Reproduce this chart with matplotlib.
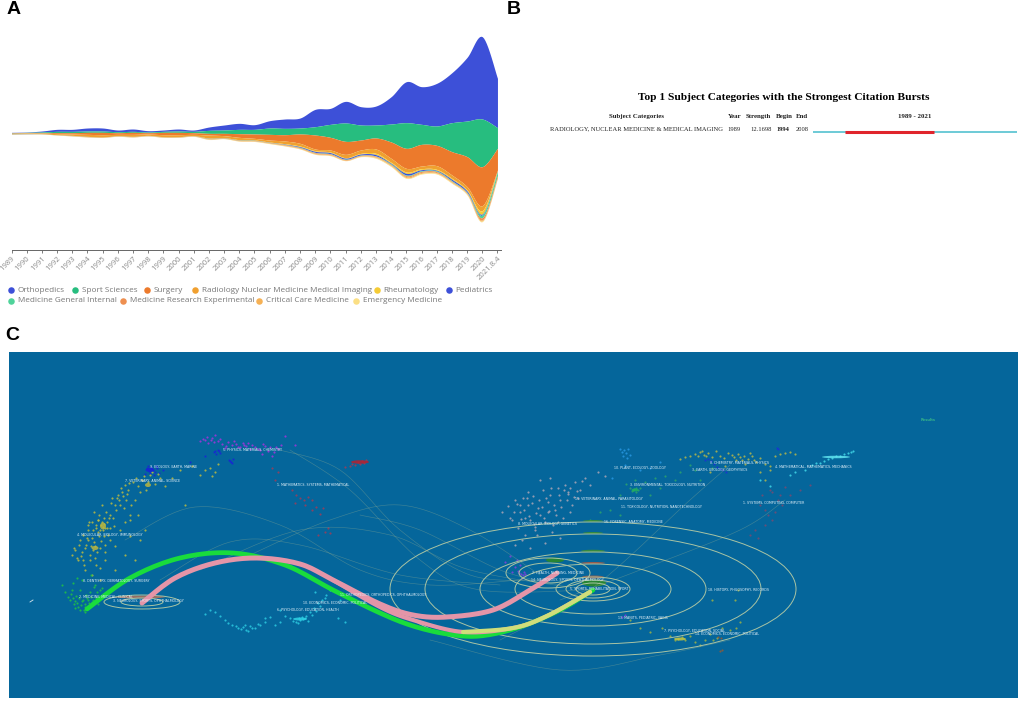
#!/usr/bin/env python
"""Three panel figure: subject category stream, citation burst, dual map overlay."""

import numpy as np
import matplotlib
matplotlib.use("Agg")
import matplotlib.pyplot as plt
from matplotlib.patches import Ellipse

# Panel A, stream values
years = [str(y) for y in range(1989, 2021)] + ["2021.8.4"]
stream_top = [397, 396, 393, 388, 388, 384, 384, 390, 387, 392, 390, 387, 390, 381, 375, 370, 374,
              362, 357, 354, 328, 325, 304, 320, 318, 290, 245, 260, 250, 218, 172, 110, 235]
orthopedics = [1, 1, 3, 6, 6, 9, 9, 5, 7, 4, 4, 6, 4, 10, 15, 18, 14, 22, 28, 30, 52, 48, 65, 55, 57,
               82, 123, 113, 128, 150, 191, 247, 148]
sport = [1, 1, 2, 4, 4, 4, 4, 3, 3, 2, 3, 4, 4, 9, 10, 13, 14, 19, 19, 18, 25, 39, 55, 45, 39,
         54, 77, 60, 58, 87, 107, 143, 62]
surgery = [1, 1, 1, 3, 4, 6, 7, 5, 6, 4, 7, 7, 5, 5, 7, 11, 13, 17, 19, 28, 42, 38, 39, 30, 33,
           49, 60, 65, 61, 70, 90, 117, 65]
radiology = [1, 1, 2, 3, 4, 6, 7, 4, 6, 4, 6, 6, 4, 9, 6, 7, 5, 6, 8, 8, 5, 6, 10, 10, 13,
             12, 11, 8, 11, 10, 10, 15, 2]
rheumatology = [.5, .5, .2, .2, .4, .4, .2, .4, .4, .4, .4, .4, .4, 1, .7, 1, 1, 1, 1.5, 2, 2, 2, 1.5, 2, 4,
                3, 4, 3, 3, 3, 3, 10, 2]
pediatrics = [.4, .4, .1, .1, .2, .2, .1, .2, .2, .2, .2, .2, .2, .4, .3, .4, .4, .5, 1, 2, 3, 3, 3, 3, 4,
              2, 5, 3, 2, 4, 4, 3, 1]
general_internal = [.3, .3, .1, .1, .2, .2, .1, .2, .2, .2, .2, .2, .2, .4, .3, .4, .4, .5, .5, 1, 1, 1, 1, 1, 1,
                    2, 2, 2, 2, 2, 2, 8, 12]
research_experimental = [.3, .3, .2, .2, .4, .4, .2, .4, .4, .4, .4, .4, .4, .8, .7, .8, .8, 1, 1.5, 1.5, 2, 2, 1.5, 1.5, 2,
                         2, 3, 3, 3, 2, 2, 7, 5]
critical_care = [.3, .3, .2, .2, .4, .4, .2, .4, .4, .4, .4, .4, .4, 1, .5, 1, 1, 1, 1.5, 1.5, 2, 2, 1.5, 1.5, 2,
                 2, 3, 3, 2, 2, 2, 3, 2]
emergency = [.2, .2, .2, .2, .4, .4, .2, .4, .4, .4, .4, .4, .4, .8, .5, .8, .8, 1, 1, 1, 1, 1, .5, 1, 2,
             2, 2, 2, 2, 2, 2, 2, 1]

series_names = ["Orthopedics", "Sport Sciences", "Surgery", "Radiology Nuclear Medicine Medical Imaging",
                "Rheumatology", "Pediatrics", "Medicine General Internal", "Medicine Research Experimental",
                "Critical Care Medicine", "Emergency Medicine"]
series_values = [orthopedics, sport, surgery, radiology, rheumatology, pediatrics, general_internal,
                 research_experimental, critical_care, emergency]
series_colors = ["#3D50D8", "#27BD7F", "#EC7A2C", "#F0A030", "#F5CB35", "#3D50D8", "#4FD39A", "#EE8F50",
                 "#F6B155", "#FBDF85"]

# Panel B
burst_title = "Top 1 Subject Categories with the Strongest Citation Bursts"
burst_category = "RADIOLOGY, NUCLEAR MEDICINE & MEDICAL IMAGING"
burst_year = 1989
burst_strength = 12.1698
burst_begin = 1994
burst_end = 2008
burst_range = (1989, 2021)

# Panel C, cluster dots read in map coordinates
magenta_x = [200, 205, 208, 212, 215, 218, 222, 228, 232, 236, 240, 246, 250, 255, 260, 265, 270, 274, 278, 281, 285, 295, 225, 243, 262, 272,
             203, 207, 211, 214, 220, 226, 234, 238, 244, 248, 252, 258, 263, 268, 276]
magenta_y = [441, 440, 443, 438, 435, 441, 444, 442, 445, 444, 447, 446, 449, 447, 450, 446, 447, 452, 449, 445, 436, 445, 448, 443, 454, 456,
             439, 437, 440, 442, 439, 446, 441, 447, 445, 443, 445, 449, 444, 451, 447]
blue_x = [147, 149, 151, 153, 155, 157, 159, 163, 190, 205, 214, 216, 218, 220, 229, 231, 233, 150, 154, 145, 148, 152, 156, 215, 219, 230, 232]
blue_y = [468, 471, 467, 470, 472, 468, 473, 470, 462, 456, 452, 454, 450, 453, 460, 462, 459, 473, 475, 474, 466, 469, 466, 451, 451, 461, 463]
yellow_x = [72, 75, 78, 80, 82, 84, 86, 88, 90, 92, 93, 95, 96, 98, 99, 100, 101, 103, 104, 105, 107, 108, 110, 112, 114, 116,
            118, 120, 122, 124, 126, 128, 130, 133, 135, 138, 142, 146, 150, 155, 160, 180, 200, 210, 215, 120, 130, 140, 110,
            92, 96, 85, 100, 105, 88, 94, 102, 115, 125, 135, 145, 185,
            74, 77, 79, 81, 83, 85, 87, 89, 91, 93, 94, 96, 97, 99, 100, 101, 102, 103, 104, 106, 107, 109, 111, 113,
            115, 117, 119, 121, 123, 125, 127, 129, 131, 136, 140, 144, 148, 152, 158, 165, 172, 192, 205, 212, 218,
            90, 95, 100, 105, 110, 115, 125, 130, 138, 92, 98, 104, 98, 105, 88, 83]
yellow_y = [555, 550, 560, 540, 552, 565, 545, 530, 555, 538, 550, 546, 528, 520, 536, 548, 525, 530, 518, 545, 522, 535, 515, 498, 526, 510,
            495, 505, 492, 508, 500, 490, 515, 482, 500, 486, 480, 490, 475, 484, 478, 470, 475, 468, 472, 530, 520, 540, 540,
            575, 565, 570, 580, 560, 525, 512, 505, 570, 555, 560, 530, 505,
            548, 558, 545, 556, 535, 548, 538, 522, 546, 530, 542, 525, 552, 515, 530, 541, 522, 527, 524, 512, 528, 518, 503, 518,
            505, 498, 500, 488, 496, 485, 494, 483, 505, 478, 492, 476, 482, 472, 474, 486, 478, 466, 470, 476, 464,
            560, 558, 568, 552, 528, 546, 522, 536, 515, 522, 532, 536, 520, 528, 540, 560]
green_x = [62, 65, 68, 70, 72, 74, 76, 78, 80, 82, 84, 86, 88, 90, 92, 94, 96, 98, 100, 73, 77, 85, 91, 95, 82, 88,
           71, 73, 75, 77, 79, 81, 83, 85, 87, 89, 91, 93, 97, 99, 102, 105, 75, 80, 85]
green_y = [585, 592, 597, 600, 590, 604, 596, 607, 590, 601, 610, 595, 606, 592, 602, 587, 598, 604, 590, 583, 578, 612, 575, 585, 580, 600,
           594, 598, 601, 603, 598, 605, 600, 607, 598, 603, 597, 600, 592, 596, 588, 594, 608, 610, 604]
cyan_x = [205, 215, 225, 232, 238, 243, 246, 250, 255, 260, 270, 280, 290, 296, 300, 303, 306, 310, 314, 318, 322, 326, 330, 338, 345, 298, 302, 308,
          228, 236, 241, 245, 248, 252, 258, 265, 275, 285, 293, 299, 305, 312, 316, 320, 325, 210, 220, 265, 280, 315, 340]
cyan_y = [614, 612, 620, 625, 628, 627, 630, 626, 628, 625, 617, 622, 618, 622, 620, 619, 616, 612, 608, 603, 600, 595, 590, 618, 622, 623, 617, 621,
          623, 626, 629, 625, 631, 628, 624, 622, 625, 616, 621, 618, 618, 615, 611, 606, 598, 610, 616, 618, 610, 592, 600]
red_x = [345, 350, 352, 355, 358, 360, 362, 364, 366, 272, 278, 292, 296, 300, 304, 308, 312, 312, 316, 320, 323, 325, 328, 330, 295, 305, 275, 318]
red_y = [467, 466, 464, 465, 462, 464, 461, 463, 460, 468, 472, 490, 495, 498, 500, 497, 500, 510, 507, 514, 508, 532, 528, 533, 503, 505, 480, 535]
pale_x = [502, 508, 512, 515, 518, 520, 523, 525, 528, 530, 533, 535, 538, 540, 543, 545, 548, 550, 553, 555, 558, 560, 563, 565, 568, 572, 575, 580, 585, 590, 598, 605,
          515, 522, 530, 537, 545, 552, 560, 570, 578, 525, 535, 548, 558, 568, 520, 528, 540, 550,
          510, 514, 517, 521, 524, 527, 529, 532, 534, 536, 539, 542, 544, 546, 549, 551, 554, 556, 559, 561, 564, 567, 570, 574, 577, 582]
pale_y = [512, 506, 520, 500, 528, 512, 498, 535, 505, 520, 496, 530, 508, 515, 490, 522, 502, 495, 525, 510, 488, 500, 518, 485, 494, 505, 482, 490, 478, 485, 472, 476,
          545, 540, 548, 535, 543, 532, 538, 512, 498, 518, 527, 512, 522, 492, 505, 492, 480, 478,
          518, 512, 504, 519, 510, 498, 516, 503, 524, 513, 500, 507, 518, 498, 511, 488, 505, 515, 495, 507, 490, 500, 488, 497, 491, 481]
purple_x = [505, 510, 515, 518, 520, 523, 525, 517, 522, 512, 625, 622, 519, 521, 524]
purple_y = [562, 556, 567, 571, 565, 575, 574, 560, 578, 572, 615, 617, 573, 574, 572]
sky_x = [620, 622, 624, 626, 628, 630, 623, 627, 640, 650, 660, 625, 612]
sky_y = [449, 452, 450, 453, 449, 455, 456, 458, 470, 468, 462, 465, 478]
mid_green_x = [630, 632, 634, 636, 638, 640, 626, 645, 655, 665, 680, 695, 620, 635, 650, 610, 600, 590, 675, 700, 712, 620, 633, 636, 660, 690]
mid_green_y = [488, 491, 489, 492, 490, 488, 484, 482, 478, 476, 472, 470, 495, 480, 495, 510, 512, 520, 480, 480, 468, 515, 490, 488, 488, 465]
right_yellow_x = [680, 685, 690, 695, 700, 704, 708, 712, 716, 720, 724, 728, 732, 736, 740, 744, 748, 752, 756, 760, 765, 770, 775, 780, 785, 790, 795,
                  710, 725, 745, 760, 770, 765, 698, 702, 706, 734, 738, 742, 750, 754]
right_yellow_y = [459, 457, 456, 454, 452, 455, 453, 457, 451, 456, 458, 453, 455, 460, 457, 456, 459, 456, 462, 458, 464, 466, 456, 454, 453, 452, 454,
                  472, 466, 464, 472, 470, 480, 456, 451, 456, 457, 454, 460, 453, 460]
right_blue_x = [705, 708, 711, 714, 717, 720, 723, 726, 777, 778]
right_blue_y = [460, 459, 461, 464, 467, 469, 470, 472, 448, 449]
right_cyan_x = [812, 816, 820, 824, 828, 832, 836, 840, 844, 848, 851, 853, 795, 805, 790, 760, 770]
right_cyan_y = [465, 463, 463, 461, 459, 458, 456, 456, 454, 453, 452, 451, 472, 470, 475, 480, 486]
dark_red_x = [760, 762, 765, 768, 770, 772, 775, 778, 780, 782, 785, 755, 750, 758, 790, 800, 810, 765, 772]
dark_red_y = [505, 495, 510, 515, 490, 492, 512, 500, 495, 505, 487, 530, 535, 538, 495, 490, 485, 525, 520]
low_yellow_x = [630, 640, 650, 662, 670, 675, 678, 682, 685, 690, 695, 700, 705, 710, 713, 717, 722, 730, 736, 740, 712, 735, 738]
low_yellow_y = [620, 628, 632, 628, 636, 640, 639, 637, 640, 636, 642, 645, 640, 634, 640, 638, 628, 630, 628, 622, 600, 600, 590]
brown_x = [718, 721, 722, 720]
brown_y = [637, 638, 650, 651]

cluster_dots = [(magenta_x, magenta_y, "#B02FE0"), (blue_x, blue_y, "#1A22D8"), (yellow_x, yellow_y, "#C9C23A"),
                (green_x, green_y, "#22C940"), (cyan_x, cyan_y, "#2FD3E6"), (red_x, red_y, "#A83A55"),
                (pale_x, pale_y, "#B8AAB8"), (purple_x, purple_y, "#8A3FE0"), (sky_x, sky_y, "#2A9BE6"),
                (mid_green_x, mid_green_y, "#2FA86A"), (right_yellow_x, right_yellow_y, "#C2BC45"),
                (right_blue_x, right_blue_y, "#1A30D8"), (right_cyan_x, right_cyan_y, "#45E0EE"),
                (dark_red_x, dark_red_y, "#7E4A70"), (low_yellow_x, low_yellow_y, "#A8B840"),
                (brown_x, brown_y, "#9A5A30")]

map_labels = [("5. PHYSICS, MATERIALS, CHEMISTRY", 223, 450), ("9. ECOLOGY, EARTH, MARINE", 150, 467.5),
              ("7. VETERINARY, ANIMAL, SCIENCE", 125, 480.5), ("1. MATHEMATICS, SYSTEMS, MATHEMATICAL", 277, 485),
              ("4. MOLECULAR, BIOLOGY, IMMUNOLOGY", 77, 535.5), ("8. DENTISTRY, DERMATOLOGY, SURGERY", 83, 580.5),
              ("2. MEDICINE, MEDICAL, CLINICAL", 79, 597), ("3. NEUROLOGY, SPORTS, OPHTHALMOLOGY", 113, 601),
              ("6. PSYCHOLOGY, EDUCATION, HEALTH", 277, 610), ("10. ECONOMICS, ECONOMIC, POLITICAL", 303, 602.5),
              ("11. ORTHOPEDICS, ORTHOPEDICS, OPHTHALMOLOGY", 340, 595), ("10. PLANT, ECOLOGY, ZOOLOGY", 614, 468),
              ("3. ENVIRONMENTAL, TOXICOLOGY, NUTRITION", 630, 485), ("15. VETERINARY, ANIMAL, PARASITOLOGY", 575, 498.5),
              ("11. TOXICOLOGY, NUTRITION, NANOTECHNOLOGY", 621, 507), ("16. FORENSIC, ANATOMY, MEDICINE", 604, 522),
              ("8. MOLECULAR, BIOLOGY, GENETICS", 518, 524), ("8. CHEMISTRY, MATERIALS, PHYSICS", 710, 463.5),
              ("3. EARTH, GEOLOGY, GEOPHYSICS", 692, 470), ("4. MATHEMATICAL, MATHEMATICS, MECHANICS", 775, 466.5),
              ("1. SYSTEMS, COMPUTING, COMPUTER", 743, 503.5), ("2. HEALTH, NURSING, MEDICINE", 532, 572.5),
              ("14. NEUROLOGY, SPORTS, OPHTHALMOLOGY", 531, 580), ("5. SPORTS, REHABILITATION, SPORT", 570, 589),
              ("18. HISTORY, PHILOSOPHY, RECORDS", 708, 590), ("13. MANITS, PEDIATRIC, VAGIS", 618, 618),
              ("7. PSYCHOLOGY, EDUCATION, SOCIAL", 664, 631), ("14. ECONOMICS, ECONOMIC, POLITICAL", 695, 634)]

# ellipse centre, half width, half height
ring_cx = [593, 593, 593, 593, 593, 593, 593, 548, 548, 142, 142]
ring_cy = [589, 589, 589, 589, 589, 589, 589, 573, 573, 602, 602]
ring_rx = [203, 168, 113, 78, 37, 27, 17, 42, 29, 38, 21]
ring_ry = [67, 55, 37, 25, 12, 9, 6, 15, 10, 7, 4]

# ribbons and thin citation links, way points only
green_link_x = [87, 130, 180, 233, 285, 333, 380, 413, 447, 480, 520, 560, 593]
green_link_y = [609, 578, 558, 553, 565, 590, 613, 626, 634, 636, 627, 610, 590]
pink_link_a_x = [142, 175, 215, 257, 300, 333, 380, 413, 447, 493, 530, 557]
pink_link_a_y = [603, 578, 563, 558, 564, 580, 604, 615, 617, 610, 590, 573]
pink_link_b_x = [333, 380, 413, 463, 513, 547, 590]
pink_link_b_y = [580, 607, 620, 632, 628, 616, 592]
thin_links = [
    ([125, 195, 280, 360, 430, 520], [540, 507, 525, 570, 585, 580]),
    ([280, 340, 400, 470, 540], [450, 470, 530, 575, 580]),
    ([250, 330, 400, 470, 540], [555, 520, 505, 530, 575]),
    ([160, 230, 300, 400, 500], [580, 542, 545, 575, 585]),
    ([200, 300, 390, 470, 590], [570, 530, 535, 570, 590]),
    ([290, 350, 420, 480, 590], [450, 490, 560, 590, 590]),
    ([360, 420, 500, 560], [515, 530, 570, 585]),
    ([500, 590, 690, 730], [640, 590, 500, 465]),
    ([560, 640, 740, 785], [600, 570, 530, 500]),
    ([430, 560, 660, 730], [640, 670, 655, 640]),
]


def smooth(values, n=12):
    """Catmull-Rom curve through the read values."""
    v = np.asarray(values, dtype=float)
    p = np.concatenate([[v[0]], v, [v[-1]]])
    t = np.linspace(0, 1, n, endpoint=False)[:, None]
    a, b, c, d = p[:-3, None].T, p[1:-2, None].T, p[2:-1, None].T, p[3:, None].T
    out = 0.5 * (2 * b + (c - a) * t + (2 * a - 5 * b + 4 * c - d) * t ** 2 + (3 * b - a - 3 * c + d) * t ** 3)
    return np.concatenate([out.T.ravel(), [v[-1]]])


fig = plt.figure(figsize=(10.21, 7.01), dpi=100, facecolor="white")
W, H = 1021.0, 701.0


def add_axes_px(x0, y0, x1, y1):
    return fig.add_axes([x0 / W, 1 - y1 / H, (x1 - x0) / W, (y1 - y0) / H])


# Overlay for panel letters, legend and the table of panel B
ax_page = add_axes_px(0, 0, W, H)
ax_page.set_xlim(0, W)
ax_page.set_ylim(H, 0)
ax_page.axis("off")
ax_page.set_zorder(5)

for letter, x, y in [("A", 13.5, 9), ("B", 514, 9), ("C", 12, 335)]:
    ax_page.text(x, y, letter, fontsize=14, fontweight="bold", family="Liberation Sans", ha="center", va="center")

# Panel A
ax_a = add_axes_px(11.5, 20, 500.5, 249.7)
ax_a.set_xlim(0, 32.2)
ax_a.set_ylim(749, 60)
ax_a.patch.set_alpha(0)
x_fine = smooth(np.arange(len(years)))
edge = smooth(stream_top)
for values, color in zip(series_values, series_colors):
    width = np.clip(smooth(values), 0, None)
    ax_a.fill_between(x_fine, edge, edge + width, color=color, lw=0)
    edge = edge + width
for s in ["top", "left", "right"]:
    ax_a.spines[s].set_visible(False)
ax_a.spines["bottom"].set_color("#666666")
ax_a.spines["bottom"].set_linewidth(0.7)
ax_a.set_yticks([])
ax_a.set_xticks(range(len(years)))
ax_a.set_xticklabels(years, rotation=45, ha="right", rotation_mode="anchor", fontsize=5.6,
                     color="#8A8A8A", family="Open Sans")
ax_a.tick_params(axis="x", length=2, width=0.6, color="#666666", pad=2)

legend_x = [11.3, 75, 147, 195, 377, 449, 11.3, 123, 259, 356]
legend_y = [290] * 6 + [301] * 4
for name, color, x, y in zip(series_names, series_colors, legend_x, legend_y):
    ax_page.scatter([x], [y], s=22, color=color, lw=0)
    ax_page.text(x + 6.5, y, name, fontsize=5.9, color="#777777", va="center", family="Open Sans")

# Panel B
ax_page.text(784, 98, burst_title, family="Liberation Serif", fontweight="bold", fontsize=8.2, ha="center", va="center")
bold_serif = dict(family="Liberation Serif", fontweight="bold", fontsize=4.95, va="center", ha="center", color="#222222")
plain_serif = dict(family="Liberation Serif", fontsize=4.7, va="center", ha="center", color="#222222")
for label, x in [("Subject Categories", 636.5), ("Year", 734.5), ("Strength", 758), ("Begin", 784),
                 ("End", 802), (f"{burst_range[0]} - {burst_range[1]}", 915)]:
    ax_page.text(x, 116.5, label, **bold_serif)
ax_page.text(636.5, 129.3, burst_category, **plain_serif)
ax_page.text(734, 129.3, str(burst_year), **plain_serif)
ax_page.text(761, 129.3, f"{burst_strength:.4f}", **plain_serif)
ax_page.text(783, 129.3, str(burst_begin), **{**plain_serif, "fontweight": "bold"})
ax_page.text(802, 129.3, str(burst_end), **plain_serif)

ax_burst = add_axes_px(813, 128, 1017, 136)
ax_burst.set_xlim(*burst_range)
ax_burst.set_ylim(-1, 1)
ax_burst.axis("off")
ax_burst.plot(burst_range, [0, 0], color="#45BCCB", lw=1.1, solid_capstyle="butt")
ax_burst.plot([burst_begin, burst_end], [0, 0], color="#E0242C", lw=2.2, solid_capstyle="butt")

# Panel C
ax_c = add_axes_px(9, 352, 1018, 698)
ax_c.set_facecolor("#05669B")
ax_c.set_xlim(9, 1018)
ax_c.set_ylim(698, 352)
ax_c.set_xticks([])
ax_c.set_yticks([])
for s in ax_c.spines.values():
    s.set_visible(False)

for lx, ly in thin_links:
    ax_c.plot(smooth(lx), smooth(ly), color="#A9B98F", lw=0.45, alpha=0.35)

for xs, ys, color in cluster_dots:
    ax_c.scatter(xs, ys, s=2.4, color=color, lw=0, alpha=0.8)

# dense knots and the short green and brown marks on the rings
for cx, cy, w, h, color in [(360, 462, 18, 3.5, "#B8202E"), (594, 583, 24, 7, "#2E8B22"), (593, 577, 22, 3, "#A0604A"),
                            (555, 560, 18, 5, "#2E8B22"), (593, 551, 24, 2.5, "#3E9030"), (593, 533, 20, 2, "#3E9030"),
                            (593, 521, 20, 2, "#3E9030"), (593, 563, 24, 2, "#B05A40"), (150, 470, 9, 4, "#1A22D8"),
                            (103, 526, 6, 7, "#B9B640"), (95, 548, 7, 4, "#B9B640"), (148, 485, 6, 4, "#B9B640"),
                            (300, 619, 14, 3, "#2FD3E6"), (836, 457, 28, 2.5, "#60E5F0"), (680, 639, 12, 3, "#C8C840"),
                            (635, 490, 7, 3, "#20B060"), (140, 597, 50, 3, "#B0705A")]:
    ax_c.add_patch(Ellipse((cx, cy), w, h, color=color, lw=0, alpha=0.85))

for cx, cy, rx, ry in zip(ring_cx, ring_cy, ring_rx, ring_ry):
    ax_c.add_patch(Ellipse((cx, cy), 2 * rx, 2 * ry, fill=False, ec="#A9C4A4", lw=0.7))

ax_c.plot(smooth(green_link_x), smooth(green_link_y), color="#19DC3C", lw=3.4, solid_capstyle="round")
ax_c.plot(smooth(pink_link_a_x), smooth(pink_link_a_y), color="#E495A8", lw=3.6, solid_capstyle="round")
ax_c.plot(smooth(pink_link_b_x), smooth(pink_link_b_y), color="#E495A8", lw=3.0, solid_capstyle="round")
# the last stretch of the lower ribbon turns yellow green
ax_c.plot(smooth(pink_link_b_x[3:]), smooth(pink_link_b_y[3:]), color="#CFDE7A", lw=3.0, solid_capstyle="round")

for label, x, y in map_labels:
    ax_c.text(x, y, label, fontsize=2.3, color="#E4F2FA", va="center", ha="left")

ax_c.text(921, 420, "Results", fontsize=2.6, fontweight="bold", color="#35B48A", va="center")
ax_c.plot([30, 33], [602, 600], color="#DDE8EE", lw=0.6)

fig.savefig("out.png", dpi=100)
